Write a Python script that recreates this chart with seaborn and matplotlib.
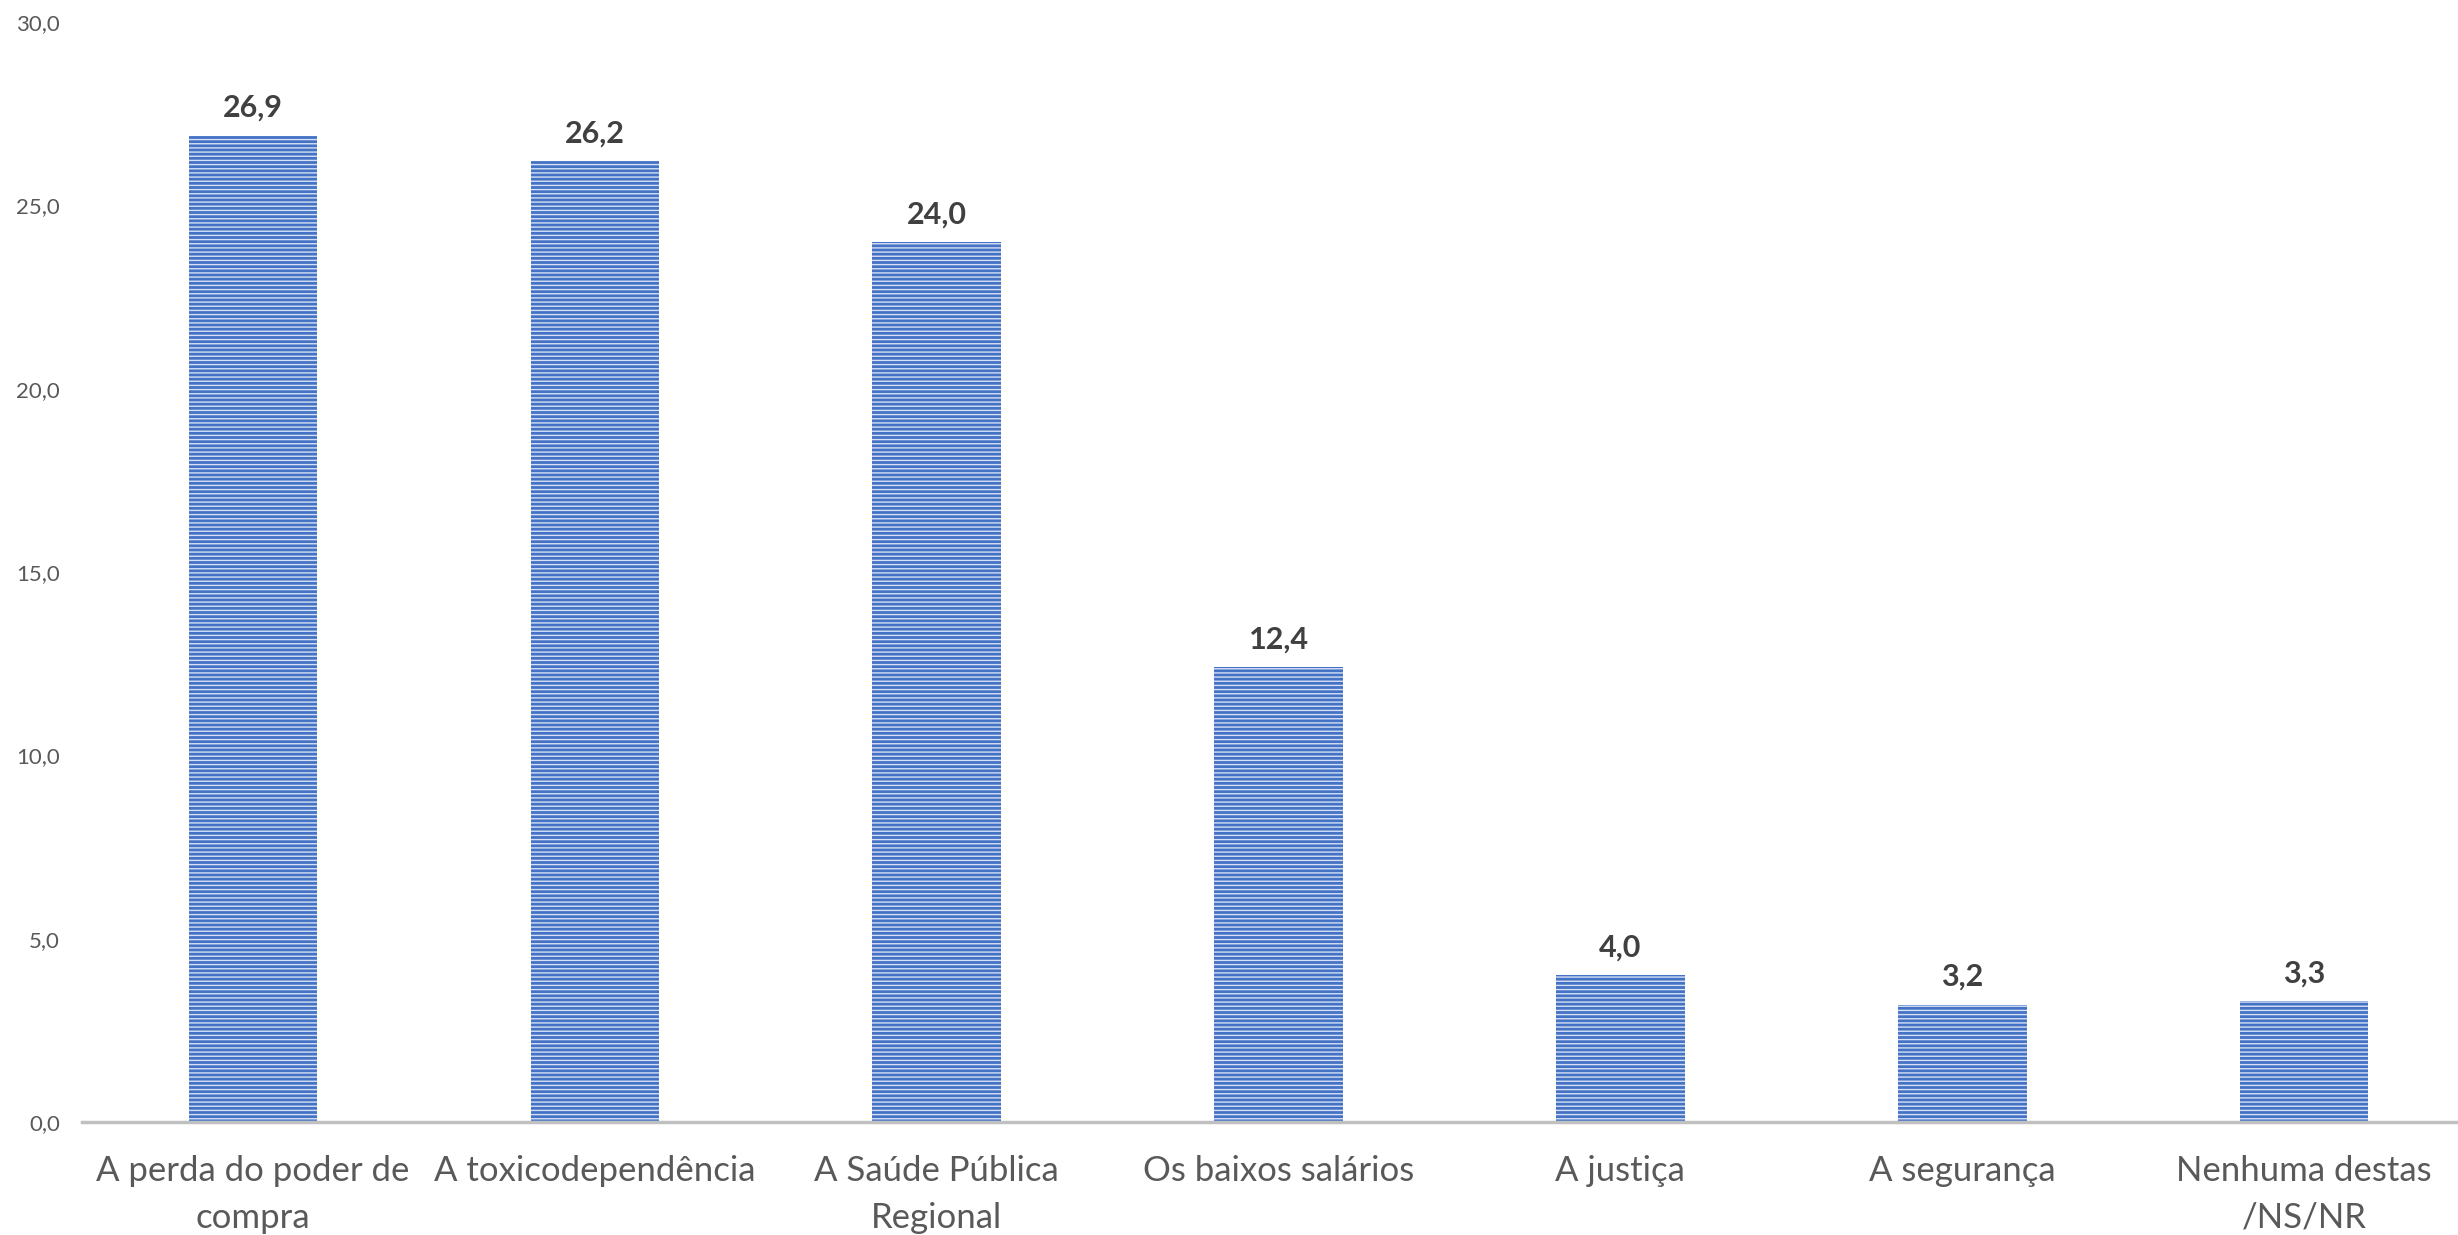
import matplotlib
matplotlib.use("Agg")
import matplotlib.pyplot as plt
import seaborn as sns
import pandas as pd
from matplotlib.ticker import FuncFormatter, MultipleLocator

categories = ["A perda do poder de\ncompra", "A toxicodependência", "A Saúde Pública\nRegional",
              "Os baixos salários", "A justiça", "A segurança", "Nenhuma destas\n/NS/NR"]
values = [26.9, 26.2, 24.0, 12.4, 4.0, 3.2, 3.3]

sns.set_theme(style="white")
plt.rcParams['font.family'] = ['Lato', 'DejaVu Sans']
plt.rcParams['hatch.linewidth'] = 1.0

df = pd.DataFrame({"cat": categories, "val": values})

fig = plt.figure(figsize=(24.58, 12.35), dpi=100)
ax = fig.add_axes([82/2458, 1 - 1122/1235, 1 - 82/2458, (1122 - 22)/1235])

sns.barplot(data=df, x="cat", y="val", color="#4472C4", width=0.376, ax=ax, saturation=1)

for p in ax.patches:
    p.set_facecolor("#4472C4")
    p.set_edgecolor("#d6e0f4")
    p.set_linewidth(0)
    p.set_hatch("----")

ax.set_ylim(0, 30)
ax.set_xlim(-0.5, 6.45)
ax.yaxis.set_major_locator(MultipleLocator(5))
ax.yaxis.set_major_formatter(FuncFormatter(lambda v, _: f"{v:.1f}".replace(".", ",")))

ax.bar_label(ax.containers[0], labels=[f"{v:.1f}".replace(".", ",") for v in values],
             padding=10, fontsize=22, fontweight="bold", color="#404040")

for s in ["top", "right", "left"]:
    ax.spines[s].set_visible(False)
ax.spines["bottom"].set_color("#c0c0c0")
ax.spines["bottom"].set_linewidth(2.5)

ax.tick_params(axis="y", length=0, pad=16, labelsize=16, labelcolor="#595959")
ax.tick_params(axis="x", length=0, pad=24, labelsize=25, labelcolor="#595959")
for t in ax.get_xticklabels():
    t.set_linespacing(1.55)
ax.set_xlabel("")
ax.set_ylabel("")
ax.grid(False)

fig.savefig("out.png", dpi=100)
